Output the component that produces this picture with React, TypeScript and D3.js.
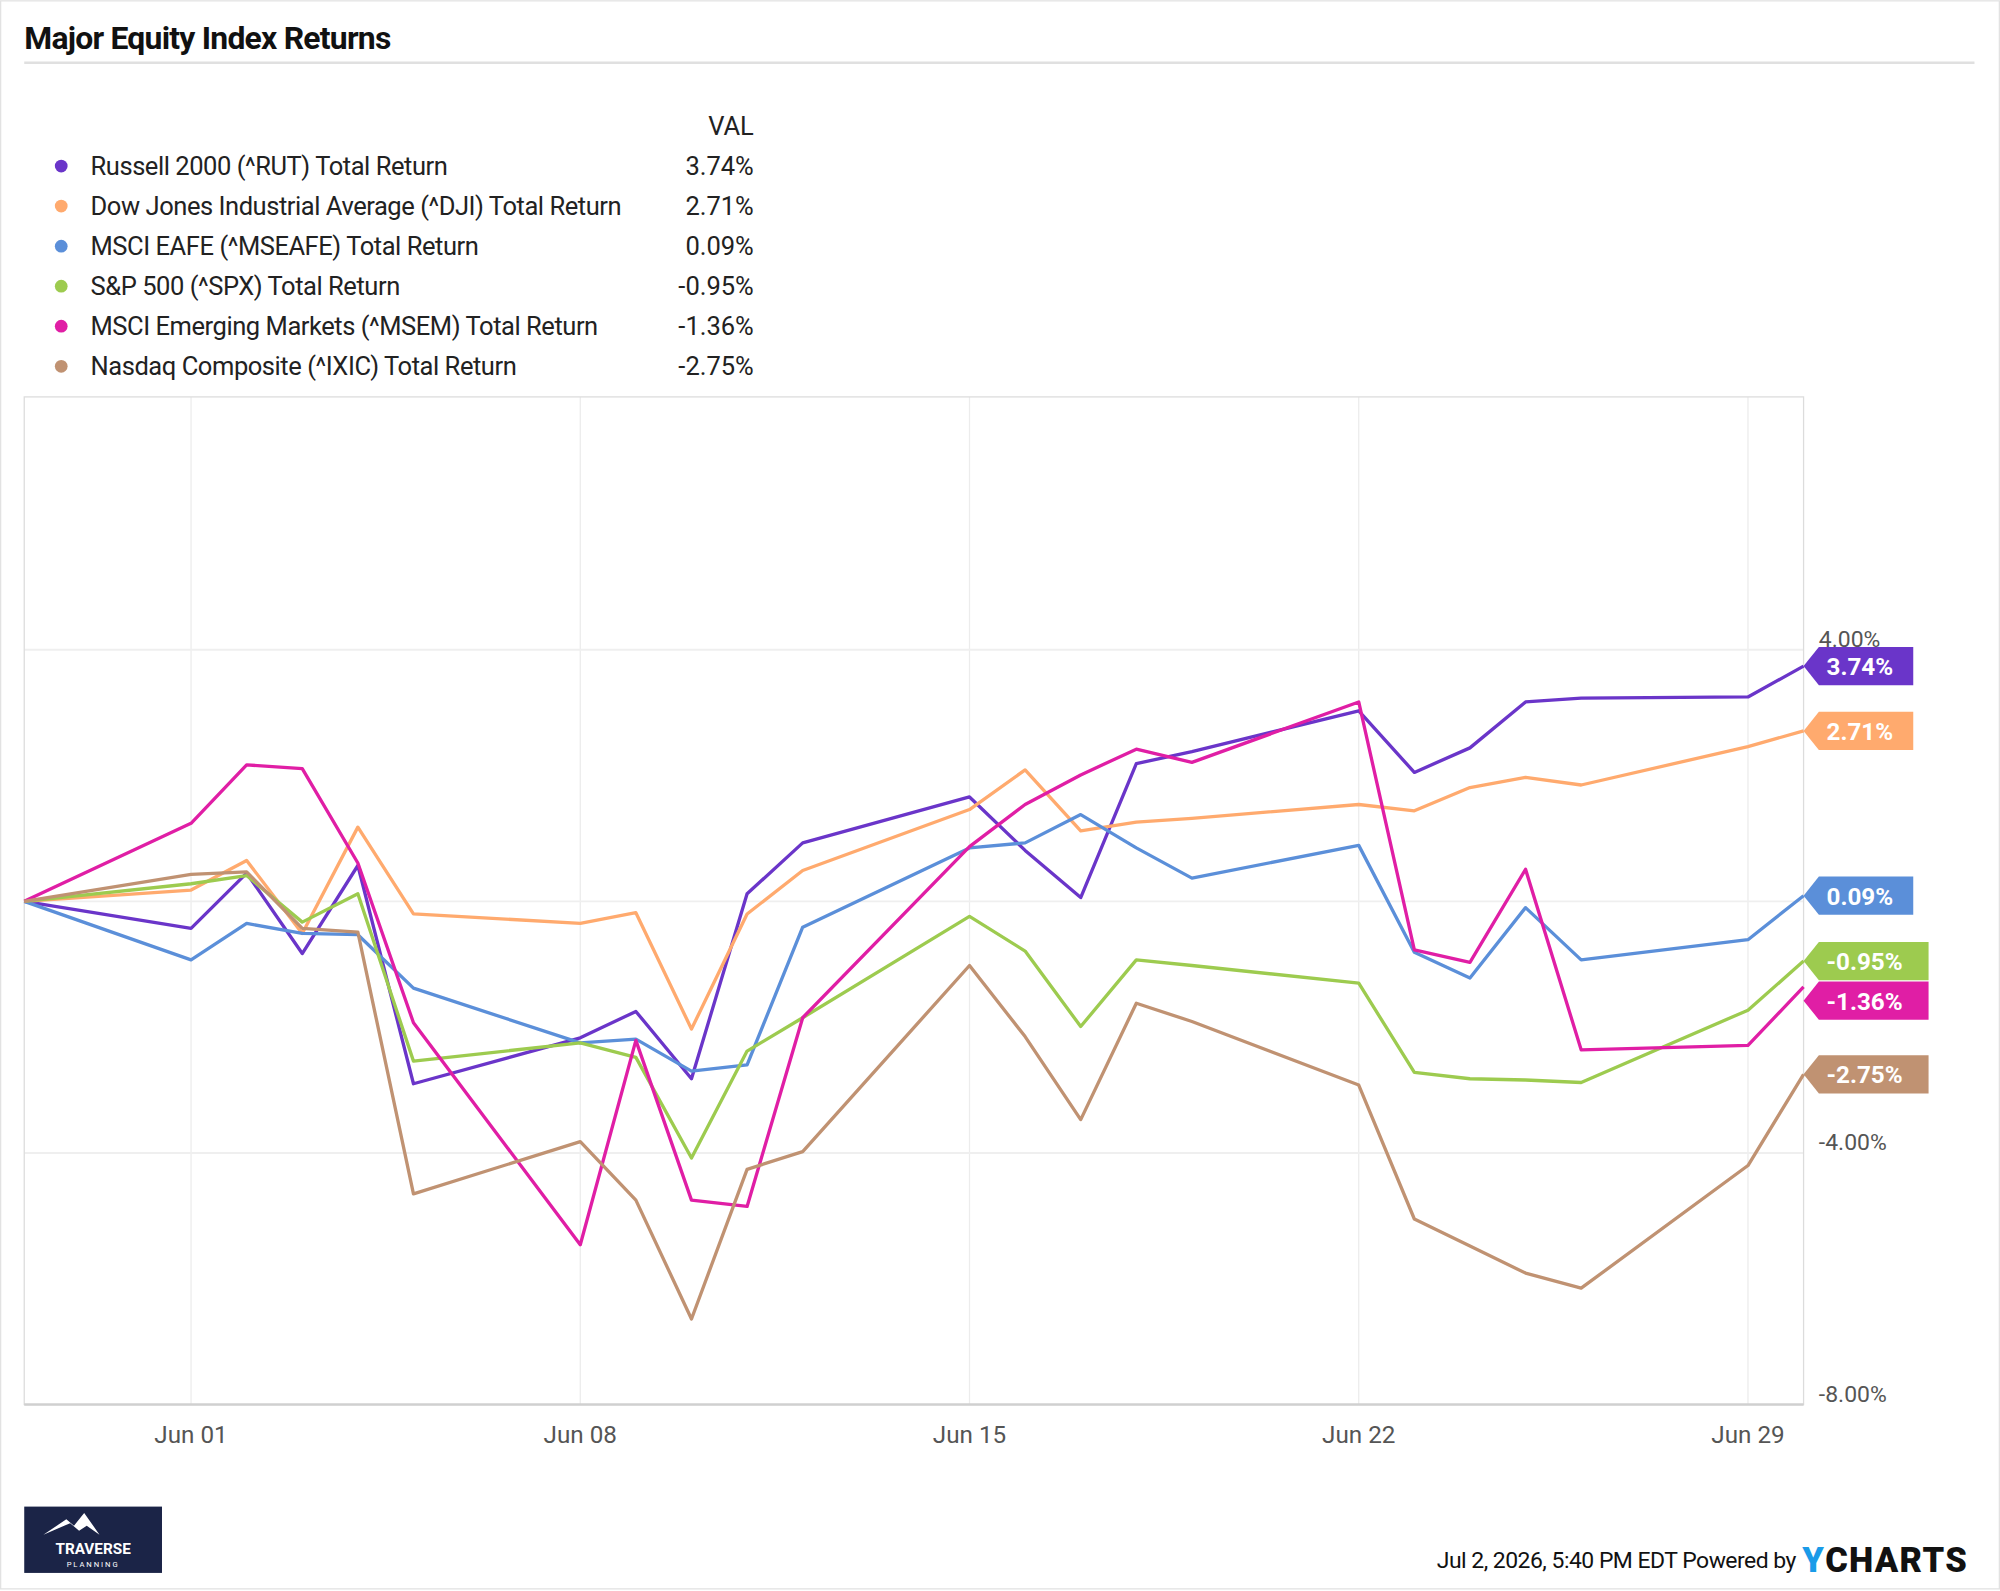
import React from 'react';
import * as d3 from 'd3';

const dates = [
  '2026-05-29', '2026-06-01', '2026-06-02', '2026-06-03', '2026-06-04', '2026-06-05',
  '2026-06-08', '2026-06-09', '2026-06-10', '2026-06-11', '2026-06-12',
  '2026-06-15', '2026-06-16', '2026-06-17', '2026-06-18', '2026-06-19',
  '2026-06-22', '2026-06-23', '2026-06-24', '2026-06-25', '2026-06-26',
  '2026-06-29', '2026-06-30',
];

const russell = [0, -0.43, 0.45, -0.83, 0.57, -2.9, -2.17, -1.75, -2.82, 0.12, 0.93, 1.66, 0.81, 0.06, 2.19, 2.38, 3.03, 2.05, 2.44, 3.17, 3.23, 3.25, 3.74];
const dow = [0, 0.18, 0.65, -0.51, 1.18, -0.2, -0.35, -0.18, -2.03, -0.2, 0.49, 1.46, 2.09, 1.12, 1.26, 1.32, 1.54, 1.44, 1.81, 1.97, 1.85, 2.46, 2.71];
const eafe = [0, -0.93, -0.35, -0.51, -0.53, -1.38, -2.25, -2.19, -2.7, -2.6, -0.41, 0.85, 0.93, 1.38, 0.85, 0.37, 0.89, -0.81, -1.22, -0.1, -0.93, -0.61, 0.09];
const spx = [0, 0.28, 0.41, -0.33, 0.12, -2.54, -2.25, -2.48, -4.08, -2.38, -1.85, -0.24, -0.79, -1.99, -0.93, -1.02, -1.3, -2.72, -2.82, -2.84, -2.88, -1.73, -0.95];
const msem = [0, 1.24, 2.17, 2.11, 0.61, -1.93, -5.46, -2.21, -4.75, -4.85, -1.85, 0.87, 1.54, 2.01, 2.42, 2.21, 3.17, -0.77, -0.97, 0.51, -2.36, -2.29, -1.36];
const nasdaq = [0, 0.43, 0.47, -0.43, -0.49, -4.65, -3.82, -4.75, -6.64, -4.26, -3.98, -1.02, -2.15, -3.47, -1.62, -1.91, -2.92, -5.05, -5.48, -5.91, -6.15, -4.2, -2.75];

const seriesNames = [
  'Russell 2000 (^RUT) Total Return',
  'Dow Jones Industrial Average (^DJI) Total Return',
  'MSCI EAFE (^MSEAFE) Total Return',
  'S&P 500 (^SPX) Total Return',
  'MSCI Emerging Markets (^MSEM) Total Return',
  'Nasdaq Composite (^IXIC) Total Return',
];
const seriesValues = [russell, dow, eafe, spx, msem, nasdaq];
const colors = ['#6a35c9', '#ffaa6e', '#5b8fd9', '#9dcb4f', '#e01ea5', '#c09272'];
const yTicks = [4, -4, -8];
const xTicks = ['2026-06-01', '2026-06-08', '2026-06-15', '2026-06-22', '2026-06-29'];

const W = 1568;
const H = 1247;
const left = 19, right = 1414, top = 311, bottom = 1101;
const font = 'Roboto, sans-serif';
const parse = d3.timeParse('%Y-%m-%d');

export default function App() {
  const x = d3.scaleTime()
    .domain([parse(dates[0])!, parse(dates[dates.length - 1])!])
    .range([left, right]);
  const y = d3.scaleLinear().domain([-8, 8.02]).range([bottom, top]);
  const line = d3.line<number>()
    .x((_d, i) => x(parse(dates[i])!))
    .y(d => y(d));

  // end labels, pushed apart when they overlap
  const labels = seriesValues.map((s, i) => ({ i, v: s[s.length - 1], ly: y(s[s.length - 1]) }))
    .sort((a, b) => a.ly - b.ly);
  for (let k = 1; k < labels.length; k++) {
    if (labels[k].ly - labels[k - 1].ly < 31) labels[k].ly = labels[k - 1].ly + 31;
  }
  const fmt = (v: number) => `${v.toFixed(2)}%`;

  return (
    <svg width={2000} height={1591} viewBox={`0 0 ${W} ${H}`}
      style={{ position: 'absolute', left: 0, top: 0, background: '#fff' }} fontFamily={font}>
      <rect x={0.5} y={0.5} width={W - 1} height={H - 2} fill="#fff" stroke="#e2e2e2" />
      <text x={19} y={38} fontSize={25} fontWeight={700} fill="#111" letterSpacing={-0.6}>Major Equity Index Returns</text>
      <line x1={19} x2={1548} y1={49} y2={49} stroke="#e0e0e0" strokeWidth={2} />

      <text x={591} y={106} fontSize={20} fill="#222" textAnchor="end">VAL</text>
      {seriesNames.map((n, i) => {
        const ry = 130 + i * 31.4;
        const s = seriesValues[i];
        return (
          <g key={n}>
            <circle cx={48} cy={ry} r={5} fill={colors[i]} />
            <text x={71} y={ry + 7} fontSize={20} fill="#222" letterSpacing={-0.35}>{n}</text>
            <text x={591} y={ry + 7} fontSize={20} fill="#222" textAnchor="end">{fmt(s[s.length - 1])}</text>
          </g>
        );
      })}

      {xTicks.map(t => (
        <g key={t}>
          <line x1={x(parse(t)!)} x2={x(parse(t)!)} y1={top} y2={bottom} stroke="#ececec" />
          <text x={x(parse(t)!)} y={1131} fontSize={19} fill="#555" textAnchor="middle">
            {d3.timeFormat('%b %d')(parse(t)!)}
          </text>
        </g>
      ))}
      {[4, 0, -4].map(t => (
        <line key={t} x1={left} x2={right} y1={y(t)} y2={y(t)} stroke="#efefef" strokeWidth={1.5} />
      ))}
      <rect x={left} y={top} width={right - left} height={bottom - top} fill="none" stroke="#dcdcdc" />
      <line x1={left} x2={right} y1={bottom} y2={bottom} stroke="#d0d0d0" strokeWidth={2} />
      {yTicks.map(t => (
        <text key={t} x={1426} y={y(t) - 2} fontSize={18} fill="#555">{fmt(t)}</text>
      ))}

      {seriesValues.map((s, i) => (
        <path key={i} d={line(s)!} fill="none" stroke={colors[i]} strokeWidth={2.6} strokeLinejoin="round" />
      ))}

      {labels.map(l => {
        const w = l.v < 0 ? 98 : 86;
        const h = 30;
        const c = l.ly;
        return (
          <g key={l.i}>
            <path d={`M${right},${c} L${right + 12},${c - h / 2} L${right + w},${c - h / 2} L${right + w},${c + h / 2} L${right + 12},${c + h / 2} Z`}
              fill={colors[l.i]} />
            <text x={right + 18} y={c + 7} fontSize={19} fontWeight={700} fill="#fff">{fmt(l.v)}</text>
          </g>
        );
      })}

      <rect x={19} y={1181} width={108} height={52} fill="#1b2447" />
      <path d="M34,1203 L52,1191 L58,1196 L66,1186 L78,1203 L68,1196 L62,1200 L55,1194 Z" fill="#fff" />
      <text x={73} y={1218} fontSize={12} fontWeight={700} fill="#fff" textAnchor="middle">TRAVERSE</text>
      <text x={73} y={1228} fontSize={6} fill="#fff" textAnchor="middle" letterSpacing={1.5}>PLANNING</text>

      <text x={1408} y={1229} fontSize={18} fill="#111" textAnchor="end" letterSpacing={-0.4}>Jul 2, 2026, 5:40 PM EDT Powered by</text>
      <text x={1413} y={1232} fontSize={27} fontWeight={900} fill="#111" letterSpacing={1}>
        <tspan fill="#1a9be8">Y</tspan>CHARTS
      </text>
    </svg>
  );
}
